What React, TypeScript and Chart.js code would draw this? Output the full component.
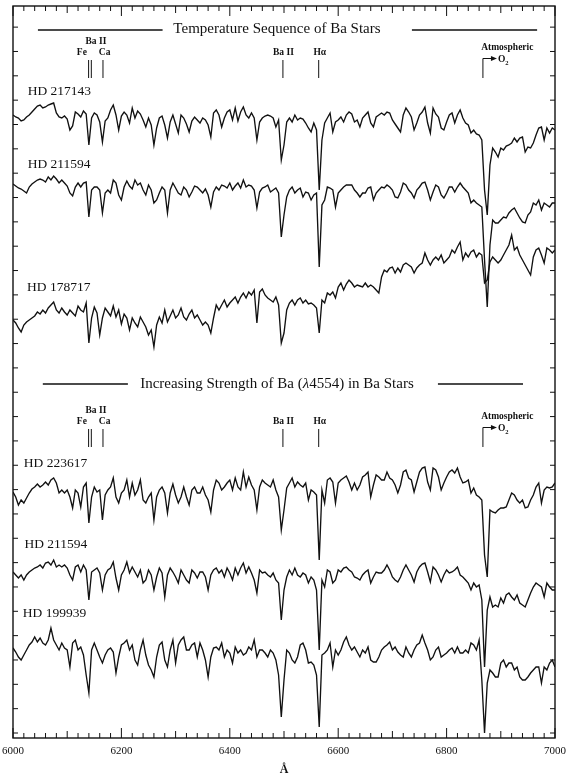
import React, { useEffect, useRef } from "react";
import { Chart, registerables } from "chart.js";

Chart.register(...registerables);

// ---------- axis / grid ----------
const WAVELENGTH_START = 6000; // Å, first sample
const WAVELENGTH_STEP = 5; // Å between samples
const X_MIN = 6000;
const X_MAX = 7000;
const X_LABEL_STEP = 200;
const X_MINOR_STEP = 20;
const Y_MIN = 0;
const Y_MAX = 732;
const Y_TICK_START = 5;
const Y_TICK_STEP = 24.34;
const Y_TICK_COUNT = 30;

// ---------- stars (top panel: 3, bottom panel: 3) ----------
const STAR_NAMES = ["HD 217143", "HD 211594", "HD 178717", "HD 223617", "HD 211594", "HD 199939"];
// vertical offset of each spectrum (continuum reference level)
const STAR_OFFSETS = [638, 568, 508, 278, 188, 118];
const STAR_LABEL_WAVELENGTHS = [6027, 6027, 6026, 6020, 6021, 6018];
const STAR_LABEL_LEVELS = [643, 570, 447, 271, 190, 121];

// line depth below each star's reference level, one value per 5 Å from 6000 to 7000 Å
const DEPTH_HD217143 = [
  15, 17, 18, 21, 20, 17, 15, 12, 9, 6,
  5, 8, 7, 5, 4, 3, 13, 17, 18, 16,
  19, 30, 26, 12, 14, 17, 11, 14, 45, 18,
  13, 15, 22, 42, 21, 18, 10, 5, 15, 30,
  16, 12, 15, 23, 8, 18, 11, 14, 20, 27,
  18, 25, 45, 28, 18, 16, 25, 38, 22, 15,
  24, 33, 15, 18, 24, 32, 21, 17, 20, 23,
  18, 20, 25, 37, 13, 10, 15, 27, 18, 12,
  10, 20, 8, 21, 12, 7, 15, 18, 13, 18,
  40, 22, 18, 16, 15, 16, 18, 27, 20, 60,
  45, 22, 18, 22, 15, 20, 18, 19, 23, 28,
  32, 23, 30, 90, 40, 23, 18, 13, 32, 22,
  20, 17, 22, 15, 12, 14, 22, 20, 27, 18,
  15, 12, 23, 27, 17, 15, 13, 15, 12, 13,
  20, 24, 28, 32, 15, 8, 12, 17, 30, 23,
  15, 12, 7, 23, 33, 8, 14, 17, 28, 30,
  22, 15, 13, 23, 15, 10, 18, 23, 25, 33,
  30, 34, 35, 40, 90, 115, 65, 48, 52, 57,
  48, 50, 46, 45, 43, 38, 42, 38, 37, 52,
  47, 48, 43, 35, 28, 27, 40, 28, 33, 28,
  30,
];

const DEPTH_HD211594_A = [
  14, 16, 18, 19, 21, 23, 17, 14, 12, 10,
  9, 10, 12, 7, 10, 6, 9, 13, 10, 13,
  16, 23, 26, 17, 13, 17, 13, 12, 47, 20,
  17, 17, 20, 43, 23, 20, 23, 10, 13, 25,
  30, 17, 11, 16, 19, 10, 15, 13, 20, 25,
  15, 20, 33, 30, 23, 17, 20, 43, 20, 13,
  18, 23, 25, 17, 20, 27, 22, 16, 17, 20,
  23, 19, 25, 37, 22, 17, 20, 15, 16, 18,
  13, 20, 16, 13, 18, 10, 17, 15, 16, 20,
  38, 22, 18, 17, 15, 22, 20, 18, 23, 67,
  45, 27, 20, 17, 23, 20, 18, 27, 22, 23,
  30, 25, 23, 97, 35, 30, 17, 18, 20, 37,
  23, 20, 17, 15, 15, 15, 20, 23, 27, 23,
  23, 18, 17, 30, 23, 20, 17, 18, 15, 17,
  20, 27, 28, 22, 13, 15, 20, 23, 28, 20,
  17, 13, 12, 20, 30, 22, 15, 17, 25, 28,
  23, 17, 17, 22, 17, 13, 17, 20, 23, 33,
  30, 33, 35, 37, 90, 137, 75, 50, 53, 53,
  50, 47, 48, 43, 40, 38, 43, 48, 52, 53,
  45, 42, 33, 35, 30, 40, 33, 35, 37, 33,
  33,
];

const DEPTH_HD178717 = [
  90, 93, 98, 102, 95, 92, 90, 88, 86, 82,
  84, 80, 83, 78, 75, 72, 80, 83, 78, 82,
  85, 80, 83, 86, 76, 80, 82, 73, 113, 88,
  77, 83, 105, 88, 78, 82, 86, 76, 87, 80,
  94, 84, 88, 100, 88, 93, 97, 87, 92, 97,
  105, 100, 117, 95, 87, 93, 80, 92, 86, 80,
  88, 85, 78, 87, 90, 84, 80, 88, 85, 90,
  95, 92, 95, 103, 88, 75, 80, 75, 70, 77,
  73, 70, 67, 73, 67, 63, 68, 62, 65, 60,
  93, 62, 59, 65, 68, 70, 72, 67, 75, 113,
  103, 80, 73, 70, 75, 70, 68, 73, 70, 74,
  73, 75, 78, 103, 70, 73, 63, 65, 62, 68,
  57, 53, 60, 54, 50, 53, 57, 55, 56, 57,
  53, 57, 55, 57, 60, 63, 47, 40, 42, 38,
  37, 43, 38, 42, 35, 33, 35, 37, 43, 38,
  35, 33, 23, 30, 35, 30, 27, 30, 25, 33,
  30, 27, 20, 23, 17, 12, 30, 23, 27, 22,
  20, 27, 23, 25, 53, 50, 32, 27, 30, 33,
  30, 25, 20, 15, 5, 20, 17, 25, 30, 35,
  40, 45, 27, 20, 18, 25, 33, 18, 20, 23,
  20,
];

const DEPTH_HD223617 = [
  32, 37, 45, 40, 43, 38, 33, 29, 27, 24,
  27, 25, 22, 25, 20, 18, 23, 33, 30, 33,
  30, 37, 48, 30, 33, 47, 27, 23, 63, 37,
  27, 32, 30, 60, 35, 30, 27, 18, 37, 43,
  33, 30, 20, 37, 23, 35, 30, 20, 40, 43,
  37, 33, 60, 37, 30, 27, 33, 53, 33, 24,
  35, 43, 37, 27, 37, 45, 30, 27, 33, 33,
  27, 35, 40, 52, 30, 20, 23, 30, 27, 23,
  20, 30, 18, 27, 30, 12, 27, 17, 25, 30,
  50, 27, 20, 23, 25, 27, 20, 30, 37, 70,
  50, 28, 23, 18, 27, 22, 25, 27, 23, 40,
  30, 32, 35, 100, 30, 43, 20, 18, 22, 43,
  23, 20, 18, 16, 22, 30, 23, 30, 25, 17,
  15, 12, 37, 25, 15, 17, 20, 20, 12, 18,
  20, 25, 33, 25, 12, 10, 18, 20, 32, 22,
  12, 8, 7, 22, 30, 8, 10, 17, 30, 23,
  17, 12, 10, 13, 8, 17, 23, 22, 20, 33,
  28, 35, 37, 40, 95, 117, 50, 52, 53, 50,
  48, 48, 47, 40, 33, 35, 40, 43, 40, 48,
  47, 40, 35, 27, 23, 43, 30, 27, 28, 27,
  23,
];

const DEPTH_HD211594_B = [
  22, 25, 28, 25, 30, 25, 22, 20, 18, 17,
  15, 18, 13, 12, 15, 10, 17, 15, 17, 15,
  18, 25, 30, 17, 15, 22, 15, 20, 50, 22,
  20, 18, 23, 40, 25, 20, 18, 12, 28, 40,
  25, 20, 12, 23, 17, 22, 27, 20, 33, 30,
  20, 25, 40, 27, 18, 23, 47, 25, 18, 22,
  27, 33, 20, 25, 30, 33, 20, 23, 28, 22,
  22, 27, 40, 25, 20, 18, 23, 20, 27, 18,
  23, 30, 18, 25, 18, 13, 23, 17, 23, 30,
  43, 20, 23, 22, 25, 27, 23, 30, 33, 70,
  40, 27, 20, 25, 18, 25, 27, 23, 25, 33,
  27, 30, 40, 100, 30, 37, 20, 22, 33, 30,
  20, 22, 18, 17, 20, 22, 27, 28, 30, 25,
  22, 20, 33, 27, 22, 23, 23, 20, 15, 20,
  27, 30, 32, 27, 20, 15, 20, 25, 32, 22,
  17, 14, 13, 22, 32, 17, 20, 25, 32, 25,
  20, 23, 22, 20, 17, 25, 27, 30, 33, 40,
  33, 37, 35, 50, 117, 60, 47, 57, 55, 57,
  48, 53, 45, 43, 47, 50, 45, 53, 55, 57,
  50, 43, 37, 33, 35, 37, 47, 33, 37, 40,
  40,
];

const DEPTH_HD199939 = [
  28, 32, 37, 40, 35, 30, 25, 22, 17, 22,
  18, 23, 25, 20, 8, 20, 25, 30, 23, 28,
  30, 47, 23, 20, 30, 27, 35, 55, 73, 30,
  23, 30, 37, 43, 35, 30, 28, 32, 53, 37,
  25, 23, 20, 30, 25, 40, 45, 30, 20, 35,
  45, 50, 57, 37, 25, 22, 40, 47, 30, 20,
  43, 25, 20, 17, 30, 30, 25, 23, 37, 23,
  30, 40, 57, 37, 28, 27, 30, 23, 37, 30,
  33, 43, 27, 33, 30, 35, 33, 27, 30, 20,
  37, 30, 30, 33, 37, 30, 33, 40, 55, 97,
  60, 30, 33, 40, 43, 37, 25, 23, 30, 43,
  42, 45, 55, 107, 35, 33, 30, 23, 47, 30,
  35, 30, 22, 17, 25, 30, 27, 32, 37, 30,
  33, 27, 40, 42, 42, 37, 30, 27, 25, 22,
  30, 27, 32, 35, 37, 27, 33, 37, 30, 25,
  23, 15, 23, 30, 40, 37, 30, 27, 37, 35,
  33, 30, 28, 33, 27, 33, 33, 30, 33, 23,
  25, 30, 20, 60, 113, 63, 50, 53, 57, 57,
  43, 40, 47, 43, 43, 50, 47, 57, 60, 60,
  57, 53, 50, 47, 47, 63, 47, 50, 43, 40,
  47,
];

const STAR_DEPTHS = [DEPTH_HD217143, DEPTH_HD211594_A, DEPTH_HD178717, DEPTH_HD223617, DEPTH_HD211594_B, DEPTH_HD199939];

// ---------- annotations ----------
const PANEL_TITLES = ["Temperature Sequence of Ba Stars", "Increasing Strength of Ba (λ4554) in Ba Stars"];
const PANEL_TITLE_CENTERS = [6487, 6487];
const PANEL_TITLE_LEVELS = [705, 350];
const PANEL_RULE_LEVELS = [708, 354];
const PANEL_RULES = [
  [[6046, 6276], [6736, 6967]],
  [[6055, 6212], [6784, 6941]],
];
const PANEL_MARKER_BASES = [660, 291];

const MARKER_LINES = [6139.5, 6144.5, 6166, 6498, 6564];
const MARKER_LABELS = ["Fe", "Ba II", "Ca", "Ba II", "Hα"];
const MARKER_LABEL_WAVELENGTHS = [6127, 6153, 6169, 6499, 6566];
const MARKER_LABEL_ROWS = [0, 1, 0, 0, 0];
const O2_WAVELENGTH = 6867;

const INK = "#111111";
const SERIF = '"Liberation Serif", "Times New Roman", serif';

function buildDatasets() {
  return STAR_DEPTHS.map((depths, i) => ({
    label: STAR_NAMES[i],
    data: depths.map((d, k) => ({ x: WAVELENGTH_START + k * WAVELENGTH_STEP, y: STAR_OFFSETS[i] - d })),
    borderColor: INK,
    borderWidth: 1.35,
    pointRadius: 0,
    tension: 0,
    fill: false,
  }));
}

const annotationPlugin = {
  id: "spectraAnnotations",
  afterDatasetsDraw(chart: any) {
    const { ctx, chartArea: a } = chart;
    const xs = chart.scales.x;
    const ys = chart.scales.y;
    const X = (w: number) => xs.getPixelForValue(w);
    const Y = (v: number) => ys.getPixelForValue(v);
    ctx.save();
    ctx.strokeStyle = INK;
    ctx.fillStyle = INK;

    // frame
    ctx.lineWidth = 1.4;
    ctx.strokeRect(a.left, a.top, a.right - a.left, a.bottom - a.top);

    // inward ticks
    ctx.lineWidth = 1;
    ctx.beginPath();
    for (let w = X_MIN; w <= X_MAX; w += X_MINOR_STEP) {
      const px = X(w);
      const len = w % 200 === 0 ? 10 : w % 100 === 0 ? 7 : 5;
      ctx.moveTo(px, a.bottom);
      ctx.lineTo(px, a.bottom - len);
      ctx.moveTo(px, a.top);
      ctx.lineTo(px, a.top + len);
    }
    for (let i = 0; i < Y_TICK_COUNT; i++) {
      const py = Y(Y_TICK_START + i * Y_TICK_STEP);
      ctx.moveTo(a.left, py);
      ctx.lineTo(a.left + 5, py);
      ctx.moveTo(a.right, py);
      ctx.lineTo(a.right - 5, py);
    }
    ctx.stroke();

    // panel titles with flanking rules
    ctx.textBaseline = "alphabetic";
    ctx.lineWidth = 1.3;
    PANEL_TITLES.forEach((title, p) => {
      ctx.beginPath();
      PANEL_RULES[p].forEach(([w0, w1]) => {
        ctx.moveTo(X(w0), Y(PANEL_RULE_LEVELS[p]));
        ctx.lineTo(X(w1), Y(PANEL_RULE_LEVELS[p]));
      });
      ctx.stroke();
      const cx = X(PANEL_TITLE_CENTERS[p]);
      const cy = Y(PANEL_TITLE_LEVELS[p]);
      const normal = `15px ${SERIF}`;
      const italic = `italic 15px ${SERIF}`;
      const idx = title.indexOf("λ");
      const parts = idx >= 0
        ? [[title.slice(0, idx), normal], ["λ", italic], [title.slice(idx + 1), normal]]
        : [[title, normal]];
      let total = 0;
      parts.forEach(([t, f]) => { ctx.font = f; total += ctx.measureText(t).width; });
      let xp = cx - total / 2;
      ctx.textAlign = "left";
      parts.forEach(([t, f]) => {
        ctx.font = f;
        ctx.fillText(t, xp, cy);
        xp += ctx.measureText(t).width;
      });
    });

    // spectral line markers
    PANEL_MARKER_BASES.forEach((base) => {
      ctx.lineWidth = 1;
      ctx.beginPath();
      MARKER_LINES.forEach((w) => {
        ctx.moveTo(X(w), Y(base));
        ctx.lineTo(X(w), Y(base + 18));
      });
      ctx.stroke();
      ctx.font = `bold 9.5px ${SERIF}`;
      ctx.textAlign = "center";
      MARKER_LABELS.forEach((lab, i) => {
        const lv = MARKER_LABEL_ROWS[i] === 1 ? base + 34.5 : base + 23.5;
        ctx.fillText(lab, X(MARKER_LABEL_WAVELENGTHS[i]), Y(lv));
      });
      // atmospheric O2 arrow
      const ox = X(O2_WAVELENGTH);
      const arrowY = Y(base + 19.5);
      ctx.beginPath();
      ctx.moveTo(ox, Y(base));
      ctx.lineTo(ox, arrowY);
      ctx.lineTo(ox + 9, arrowY);
      ctx.stroke();
      ctx.beginPath();
      ctx.moveTo(ox + 14, arrowY);
      ctx.lineTo(ox + 8, arrowY - 2.5);
      ctx.lineTo(ox + 8, arrowY + 2.5);
      ctx.closePath();
      ctx.fill();
      ctx.font = `bold 9.5px ${SERIF}`;
      ctx.fillText("Atmospheric", X(6912), Y(base + 28.5));
      ctx.textAlign = "left";
      ctx.font = `bold 9.5px ${SERIF}`;
      ctx.fillText("O", ox + 15, Y(base + 16.5));
      const ow = ctx.measureText("O").width;
      ctx.font = `bold 6.5px ${SERIF}`;
      ctx.fillText("2", ox + 15 + ow, Y(base + 13.5));
    });

    // star names
    ctx.font = `13.5px ${SERIF}`;
    ctx.textAlign = "left";
    STAR_NAMES.forEach((name, i) => {
      ctx.fillText(name, X(STAR_LABEL_WAVELENGTHS[i]), Y(STAR_LABEL_LEVELS[i]));
    });
    ctx.restore();
  },
};

export default function App() {
  const ref = useRef<HTMLCanvasElement | null>(null);
  useEffect(() => {
    if (!ref.current) return;
    const chart = new Chart(ref.current, {
      type: "line",
      data: { datasets: buildDatasets() as any },
      options: {
        animation: false,
        responsive: false,
        devicePixelRatio: 1,
        layout: { padding: { left: 13, right: 15, top: 6, bottom: 0 } },
        plugins: { legend: { display: false }, tooltip: { enabled: false } },
        scales: {
          x: {
            type: "linear",
            min: X_MIN,
            max: X_MAX,
            grid: { display: true, drawOnChartArea: false, drawTicks: true, tickLength: 7, color: "rgba(0,0,0,0)" },
            border: { display: false },
            ticks: {
              stepSize: X_LABEL_STEP,
              autoSkip: false,
              maxRotation: 0,
              padding: 0,
              color: INK,
              font: { family: SERIF, size: 11 },
              callback: (v: any) => String(v),
            },
            title: {
              display: true,
              text: "Å",
              color: INK,
              font: { family: SERIF, size: 12, weight: "bold" },
              padding: { top: 0, bottom: 3 },
            },
            afterFit: (s: any) => { s.height = 42; },
          },
          y: { type: "linear", min: Y_MIN, max: Y_MAX, display: false },
        },
      } as any,
      plugins: [annotationPlugin],
    });
    return () => chart.destroy();
  }, []);
  return (
    <div style={{ position: "absolute", left: 0, top: 0, width: 570, height: 780, background: "#fff" }}>
      <canvas ref={ref} width={570} height={780} style={{ width: 570, height: 780, display: "block" }} />
    </div>
  );
}
